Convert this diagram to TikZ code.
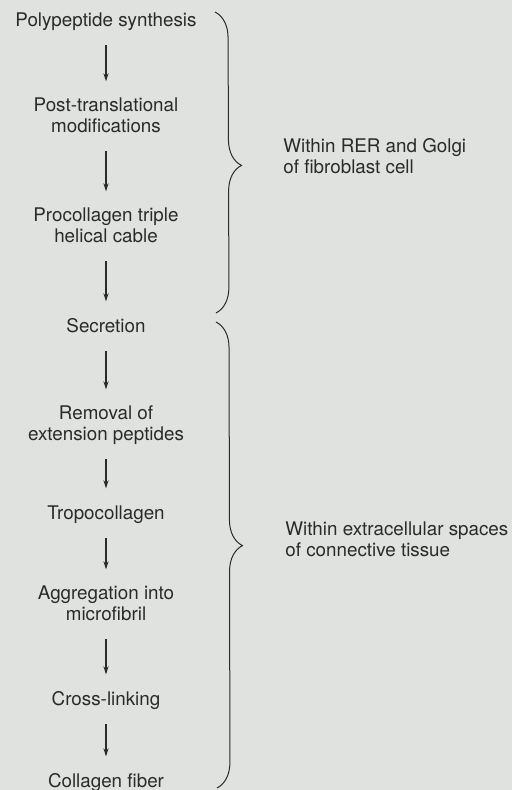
\documentclass[tikz,border=0pt]{standalone}
\usepackage{fontspec}
\setmainfont{TeX Gyre Heros}
\usepackage{tikz}
\usetikzlibrary{arrows.meta, positioning, decorations.pathreplacing}
\definecolor{paper}{RGB}{224,226,223}
\definecolor{ink}{RGB}{42,42,42}

\begin{document}
\begin{tikzpicture}[x=0.5pt,y=-0.5pt,
  stage/.style={anchor=north,inner sep=0pt,align=center,text=ink,
    font=\fontsize{9.4}{10.5}\selectfont,
    execute at begin node=\strut,execute at end node=\strut},
  note/.style={stage,anchor=north west,align=left},
  flow/.style={-{Stealth[length=4pt,width=2.6pt]},line width=0.6pt,ink,
    shorten <=6pt,shorten >=8pt},
  grp/.style={ink,line width=0.5pt,decorate,
    decoration={brace,amplitude=13pt}}]
% page
\fill[paper] (0,0) rectangle (512,790);
\useasboundingbox (0,0) rectangle (512,790);

% Steps
\node[stage] (synth) at (106,11.3) {Polypeptide synthesis};
\node[stage] (post) at (106,97.3) {Post-translational\\modifications};
\node[stage] (cable) at (106,207.3) {Procollagen triple\\helical cable};
\node[stage] (secr) at (106,317.3) {Secretion};
\node[stage] (remov) at (106,405.3) {Removal of\\extension peptides};
\node[stage] (tropo) at (106,504.3) {Tropocollagen};
\node[stage] (aggr) at (106,585.3) {Aggregation into\\microfibril};
\node[stage] (cross) at (106,690.3) {Cross-linking};
\node[stage] (fiber) at (106,772.3) {Collagen fiber};

% Arrows
\draw[flow] (synth) -- (post);
\draw[flow] (post) -- (cable);
\draw[flow] (cable) -- (secr);
\draw[flow] (secr) -- (remov);
\draw[flow] (remov) -- (tropo);
\draw[flow] (tropo) -- (aggr);
\draw[flow] (aggr) -- (cross);
\draw[flow] (cross) -- (fiber);

% Braces
\coordinate (rerTop) at (215,12);
\coordinate (rerBot) at (216,313);
\coordinate (ecTop) at (216,322);
\coordinate (ecBot) at (217,788);
\draw[grp,decoration={aspect=0.51}] (rerTop) -- (rerBot);
\draw[grp,decoration={aspect=0.48}] (ecTop) -- (ecBot);

% Labels
\node[note] (rer) at (283,138.3) {Within RER and Golgi\\of fibroblast cell};
\node[note] (ec) at (285,521.3) {Within extracellular spaces\\of connective tissue};
\end{tikzpicture}
\end{document}
